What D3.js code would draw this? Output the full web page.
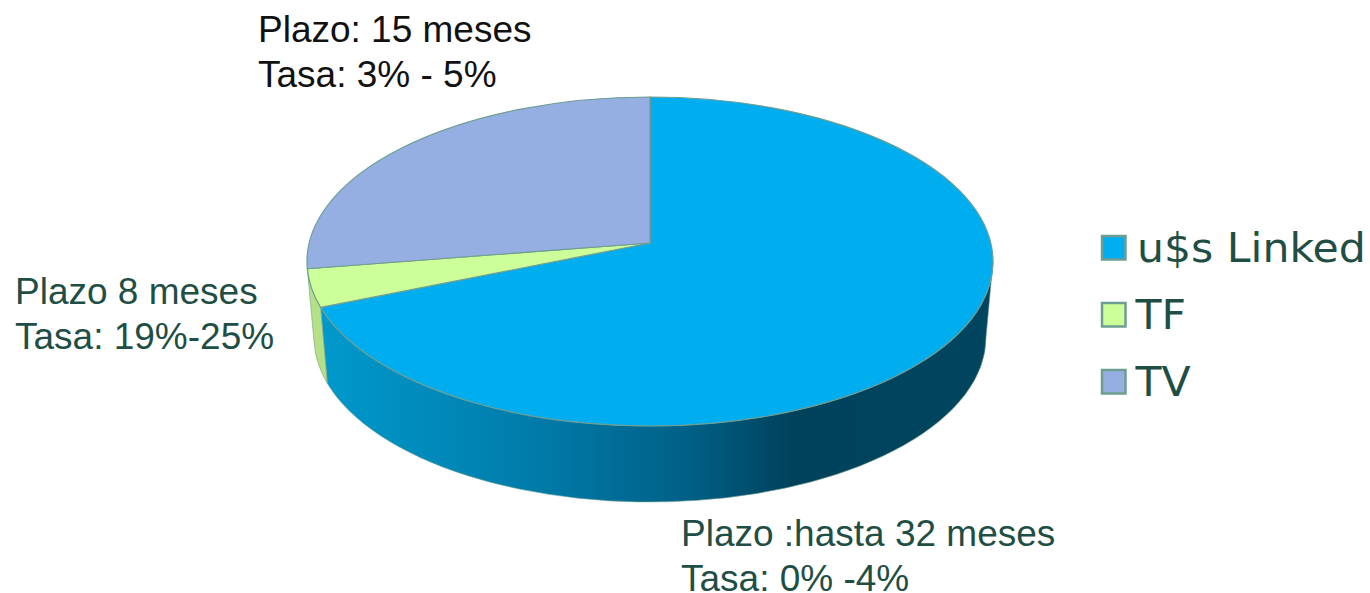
<!DOCTYPE html>
<html>
<head>
<meta charset="utf-8">
<script src="https://cdn.jsdelivr.net/npm/d3@7"></script>
<style>
  html, body { margin: 0; padding: 0; background: #fff; overflow: hidden; }
</style>
</head>
<body>
<div id="chart"></div>
<script>
const categories = ["u$s Linked", "TF", "TV"];
const values = [70.5, 3.8, 25.7];
const colors = ["#00AEEF", "#CCFF99", "#95AFE3"];
const labelLines = [
  ["Plazo :hasta 32 meses", "Tasa: 0% -4%"],
  ["Plazo 8 meses", "Tasa: 19%-25%"],
  ["Plazo: 15 meses", "Tasa: 3% - 5%"]
];

const width = 1370, height = 593;
const cx = 650, rx = 343, pieTop = 97, pieBottom = 426, depth = 76;
const rimInset = 7; // el borde inferior es un poco mas angosto que la tapa
const apexY = 243;
const edge = "#6E9E92";

const ry = (pieBottom - pieTop) / 2;
const cy = (pieTop + pieBottom) / 2;
const rx2 = rx - rimInset;

const svg = d3.select("#chart").append("svg")
  .attr("width", width)
  .attr("height", height)
  .style("display", "block");

const x = d3.scaleLinear().domain([-1, 1]).range([cx - rx, cx + rx]);
const x2 = d3.scaleLinear().domain([-1, 1]).range([cx - rx2, cx + rx2]);
const y = d3.scaleLinear().domain([-1, 1]).range([cy - ry, cy + ry]);

const pie = d3.pie().sort(null)(values);
const px = a => x(Math.sin(a));
const px2 = a => x2(Math.sin(a));
const py = a => y(-Math.cos(a));

// sombra de la pared grande, oscura a la derecha
const defs = svg.append("defs");
const grad = defs.append("linearGradient")
  .attr("id", "wall")
  .attr("gradientUnits", "userSpaceOnUse")
  .attr("x1", 323).attr("x2", 993).attr("y1", 0).attr("y2", 0);
[[0, "#0099CC"], [0.35, "#0078A5"], [0.55, "#005F85"], [0.7, "#00425C"], [1, "#00455F"]].forEach(s => {
  grad.append("stop").attr("offset", s[0]).attr("stop-color", s[1]);
});

function wallSeg(a0, a1) {
  return `M${px(a0)},${py(a0)} A${rx},${ry} 0 0 1 ${px(a1)},${py(a1)}` +
    ` L${px2(a1)},${py(a1) + depth} A${rx2},${ry} 0 0 0 ${px2(a0)},${py(a0) + depth} Z`;
}

function slicePath(d) {
  const large = d.endAngle - d.startAngle > Math.PI ? 1 : 0;
  return `M${cx},${apexY} L${px(d.startAngle)},${py(d.startAngle)}` +
    ` A${rx},${ry} 0 ${large} 1 ${px(d.endAngle)},${py(d.endAngle)} Z`;
}

// paredes: solo la parte delantera del borde
svg.append("path")
  .attr("d", wallSeg(Math.PI / 2, pie[0].endAngle))
  .attr("fill", "url(#wall)")
  .attr("stroke", edge)
  .attr("stroke-width", 0.6);
svg.append("path")
  .attr("d", wallSeg(pie[1].startAngle, pie[1].endAngle))
  .attr("fill", "#B6E085")
  .attr("stroke", edge)
  .attr("stroke-width", 0.6);

svg.selectAll("path.slice")
  .data(pie)
  .join("path")
  .attr("class", "slice")
  .attr("d", slicePath)
  .attr("fill", (d, i) => colors[i])
  .attr("stroke", edge)
  .attr("stroke-width", 1.2)
  .attr("stroke-linejoin", "round");

// leyenda
const legendY = [247.5, 314.5, 381.5];
const legend = svg.selectAll("g.legend")
  .data(categories)
  .join("g")
  .attr("class", "legend")
  .attr("transform", (d, i) => `translate(1102,${legendY[i]})`);
legend.append("rect")
  .attr("x", 0)
  .attr("y", -11.5)
  .attr("width", 23.5)
  .attr("height", 23.5)
  .attr("fill", (d, i) => colors[i])
  .attr("stroke", edge)
  .attr("stroke-width", 2.5);
legend.append("text")
  .attr("transform", d => `translate(${d.startsWith("u") ? 35 : 33.5},14.5) scale(1.065,1)`)
  .attr("font-family", "DejaVu Sans")
  .attr("font-size", 40)
  .attr("fill", "#1F4E45")
  .text(d => d);

// notas de cada porcion
const labelPos = [[681, 546], [15, 304], [258, 41.5]];
const labelColor = ["#1F4E45", "#1F4E45", "#111111"];
labelLines.forEach((lines, i) => {
  const t = svg.append("text")
    .attr("font-family", "Liberation Sans")
    .attr("font-size", 37)
    .attr("fill", labelColor[i]);
  lines.forEach((s, j) => {
    t.append("tspan")
      .attr("x", labelPos[i][0])
      .attr("y", labelPos[i][1] + j * 45)
      .text(s);
  });
});
</script>
</body>
</html>
